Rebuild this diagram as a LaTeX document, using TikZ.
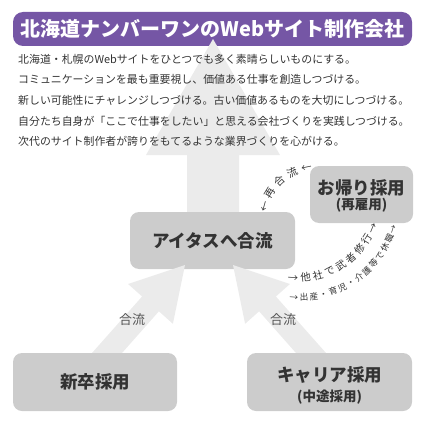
\documentclass[tikz,border=0pt]{standalone}
\usepackage{fontspec}
\setmainfont{Noto Sans CJK JP}
\newfontfamily\jp{Noto Sans CJK JP}
\usetikzlibrary{decorations.text,calc}
\definecolor{titlepurple}{HTML}{7556A5}
\definecolor{boxgray}{HTML}{CCCCCC}
\definecolor{arrowgray}{HTML}{EBEBEB}
\definecolor{ink}{HTML}{333333}
\newcommand\jpfs[1]{\jp\fontsize{#1}{#1}\selectfont}
\begin{document}
\begin{tikzpicture}[x=1pt,y=1pt,
  box/.style={fill=boxgray, rounded corners=9pt, inner sep=0pt},
  fatarrow/.style={fill=arrowgray, draw=none},
  bodyline/.style={anchor=base west, inner sep=0pt, text=ink, font=\jpfs{10.9}},
  boxlabel/.style={inner sep=0pt, text=ink, font={\jpfs{17.5}\bfseries}},
  sublabel/.style={inner sep=0pt, text=ink, font={\jpfs{13.5}\bfseries}},
  mergelabel/.style={inner sep=0pt, text=ink!85, font=\jpfs{13}},
  curvetext/.style={decorate, decoration={text along path, text align={fit to path}, text={#1}}},
]
\useasboundingbox (0,0) rectangle (425,-425);

% title bar
\node[fill=titlepurple, rounded corners=10pt, minimum width=399pt, minimum height=34pt, inner sep=0pt] (titlebar) at (212.5,-29) {};

% big upward arrow
\path[fatarrow] (187,-213) -- (187,-155) -- (146,-155) -- (213,-39) -- (280,-155) -- (239,-155) -- (239,-213) -- cycle;

\node[inner sep=0pt, text=white, font={\jpfs{20}\bfseries}] (titletext) at (titlebar) {北海道ナンバーワンのWebサイト制作会社};

% body text
\node[bodyline] (l1) at (18,-64) {北海道・札幌のWebサイトをひとつでも多く素晴らしいものにする。};
\node[bodyline] (l2) at (18,-84) {コミュニケーションを最も重要視し、価値ある仕事を創造しつづける。};
\node[bodyline] (l3) at (18,-105) {新しい可能性にチャレンジしつづける。古い価値あるものを大切にしつづける。};
\node[bodyline] (l4) at (18,-125) {自分たち自身が「ここで仕事をしたい」と思える会社づくりを実践しつづける。};
\node[bodyline] (l5) at (18,-145) {次代のサイト制作者が誇りをもてるような業界づくりを心がける。};

% center box
\node[box, boxlabel, minimum width=165pt, minimum height=57pt] (center) at (212.5,-240.5) {アイタスへ合流};

% lower arrows
\path[fatarrow] (92,-353) -- (142.1,-296.5) -- (128.1,-284) -- (185,-265) -- (172.9,-323.8) -- (158.9,-311.3) -- (122,-353) -- cycle;
\path[fatarrow] (326,-353) -- (275.9,-296.5) -- (289.9,-284) -- (233,-265) -- (245.1,-323.8) -- (259.1,-311.3) -- (296,-353) -- cycle;

\node[mergelabel] (mergeL) at (132,-320) {合流};
\node[mergelabel] (mergeR) at (283,-320) {合流};

% bottom boxes
\node[box, boxlabel, minimum width=164pt, minimum height=58pt] (shinsotsu) at (95,-382) {新卒採用};
\node[box, minimum width=165pt, minimum height=58pt] (career) at (329.5,-382) {};
\node[boxlabel] (careerlabel) at (329.5,-375) {キャリア採用};
\node[sublabel] (careersub) at (329.5,-397) {(中途採用)};

% return box
\node[box, minimum width=103pt, minimum height=57pt] (okaeri) at (361.5,-194.5) {};
\node[boxlabel] (okaerilabel) at (361.5,-188) {お帰り採用};
\node[sublabel] (okaerisub) at (361.5,-205) {(再雇用)};

% curved texts
\path[curvetext={|\jpfs{10.5}\color{ink}|←再合流←}] (318,-222) ++(170:52) arc[start angle=170, end angle=96, radius=52];
\path[curvetext={|\jpfs{10.3}\color{ink}|→他社で武者修行→}] (298,-197) ++(-97:84.5) arc[start angle=-97, end angle=-19, radius=84.5];
\path[curvetext={|\jpfs{8.6}\color{ink}|→出産・育児・介護等で休職→}] (300,-200) ++(-96:100.5) arc[start angle=-96, end angle=-15, radius=100.5];
\end{tikzpicture}
\end{document}
